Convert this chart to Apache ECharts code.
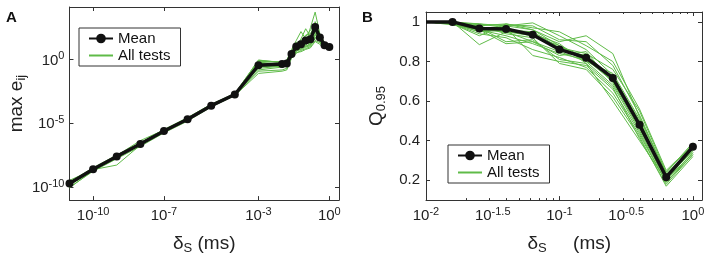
<!DOCTYPE html>
<html>
<head>
<meta charset="utf-8">
<script src="https://cdn.jsdelivr.net/npm/echarts@6/dist/echarts.min.js"></script>
<style>
  html, body { margin: 0; padding: 0; background: #fff; }
  #container { width: 709px; height: 260px; }
</style>
</head>
<body>
<div id="container"></div>
<script>
// ---- panel A data: max error vs time step
const xA = [1e-11, 1e-10, 1e-9, 1e-8, 1e-7, 1e-6, 1e-5, 1e-4, 1e-3,
            0.0100, 0.0158, 0.0251, 0.0398, 0.0631, 0.1000, 0.1585, 0.2512, 0.3981, 0.6310, 1.0000];
const meanA = [2.0e-10, 2.6e-9, 2.6e-8, 2.4e-7, 2.5e-6, 2.1e-5, 2.4e-4, 1.8e-3, 0.35,
               0.43, 0.47, 2.6, 10, 15, 30, 37, 340, 52, 13, 9.5];
const testsA = [
  [1.5e-10, 2.2e-9, 2.1e-8, 2.0e-7, 2.1e-6, 1.8e-5, 2.0e-4, 1.6e-3, 0.30, 0.38, 0.40, 1.8, 4.5, 6, 9, 12, 60, 25, 9, 8.5],
  [2.6e-10, 3.4e-9, 3.3e-8, 3.1e-7, 3.3e-6, 2.8e-5, 3.1e-4, 2.2e-3, 0.85, 0.60, 0.70, 3.5, 8, 20, 12, 50, 900, 80, 15, 10],
  [1.0e-10, 1.8e-9, 1.7e-8, 1.6e-7, 1.8e-6, 1.5e-5, 1.9e-4, 1.5e-3, 0.08, 0.12, 0.15, 1.2, 3, 5, 7, 10, 30, 20, 8, 9],
  [2.3e-10, 3.0e-9, 3.2e-8, 2.7e-7, 2.9e-6, 2.6e-5, 2.9e-4, 2.0e-3, 0.45, 0.50, 0.55, 5, 30, 150, 40, 25, 200, 60, 12, 11],
  [1.8e-10, 2.4e-9, 5.5e-9, 2.0e-7, 2.2e-6, 2.3e-5, 2.6e-4, 1.9e-3, 0.20, 0.30, 0.35, 2, 6, 8, 15, 300, 5000, 100, 20, 10],
  [2.1e-10, 2.8e-9, 2.8e-8, 2.6e-7, 2.7e-6, 2.3e-5, 2.7e-4, 1.7e-3, 0.12, 0.15, 0.20, 1.5, 4, 9, 20, 15, 100, 30, 10, 9],
  [1.7e-10, 2.5e-9, 2.4e-8, 2.3e-7, 2.4e-6, 2.0e-5, 2.3e-4, 1.8e-3, 0.70, 0.65, 0.80, 4, 12, 25, 60, 200, 400, 90, 14, 10],
  [1.9e-10, 2.7e-9, 2.7e-8, 2.5e-7, 2.6e-6, 2.2e-5, 2.5e-4, 1.9e-3, 0.90, 0.55, 0.60, 3, 10, 12, 25, 30, 150, 40, 11, 9],
  [3.5e-10, 2.3e-9, 2.2e-8, 2.2e-7, 2.3e-6, 1.9e-5, 2.2e-4, 1.7e-3, 0.25, 0.35, 0.40, 2.2, 7, 10, 18, 20, 80, 35, 10, 9.5],
  [1.6e-10, 2.0e-9, 2.5e-8, 2.9e-7, 2.8e-6, 2.5e-5, 2.8e-4, 2.1e-3, 0.50, 0.40, 0.50, 2.5, 9, 40, 250, 60, 120, 45, 16, 10],
  [2.4e-10, 3.1e-9, 2.9e-8, 2.7e-7, 2.6e-6, 2.4e-5, 2.6e-4, 1.8e-3, 0.60, 0.45, 0.50, 3, 15, 8, 10, 18, 40, 50, 13, 10],
  [0.9e-10, 2.1e-9, 2.0e-8, 2.1e-7, 2.0e-6, 1.7e-5, 2.1e-4, 1.6e-3, 0.15, 0.25, 0.30, 1.6, 3.5, 4, 6, 8, 25, 15, 7, 8.5],
  [2.0e-10, 2.9e-9, 3.0e-8, 4.5e-7, 3.0e-6, 2.7e-5, 3.0e-4, 2.0e-3, 0.40, 0.50, 0.90, 6, 20, 30, 80, 100, 600, 70, 18, 11],
  [1.8e-10, 2.6e-9, 2.3e-8, 2.4e-7, 2.5e-6, 2.1e-5, 2.4e-4, 1.8e-3, 0.30, 0.28, 0.45, 2, 5, 7, 11, 14, 50, 25, 9, 9]
];
const tickA_x = [1e-10, 1e-7, 1e-3, 1];
const tickA_y = [1e-10, 1e-5, 1];

// ---- panel B data: Q0.95 vs time step
const xB = [0.0100, 0.0158, 0.0251, 0.0398, 0.0631, 0.1000, 0.1585, 0.2512, 0.3981, 0.6310, 1.0000];
const meanB = [1.0, 1.0, 0.967, 0.964, 0.935, 0.861, 0.819, 0.717, 0.480, 0.216, 0.369];
const testsB = [
  [1, 1.0, 0.885, 0.95, 0.93, 0.88, 0.82, 0.70, 0.48, 0.21, 0.36],
  [1, 0.995, 0.98, 0.99, 0.96, 0.90, 0.93, 0.84, 0.52, 0.23, 0.37],
  [1, 0.99, 0.96, 0.89, 0.90, 0.85, 0.80, 0.68, 0.45, 0.20, 0.34],
  [1, 1.0, 0.99, 0.98, 0.995, 0.93, 0.86, 0.73, 0.50, 0.22, 0.38],
  [1, 0.995, 0.97, 0.97, 0.83, 0.80, 0.78, 0.66, 0.44, 0.19, 0.33],
  [1, 0.99, 0.95, 0.96, 0.95, 0.87, 0.84, 0.76, 0.55, 0.24, 0.39],
  [1, 1.0, 0.98, 0.94, 0.92, 0.79, 0.76, 0.62, 0.42, 0.17, 0.32],
  [1, 0.99, 0.93, 0.99, 0.97, 0.95, 0.88, 0.80, 0.56, 0.25, 0.38],
  [1, 0.985, 0.96, 0.93, 0.89, 0.84, 0.81, 0.70, 0.47, 0.21, 0.35],
  [1, 1.0, 0.97, 0.95, 0.94, 0.89, 0.79, 0.60, 0.40, 0.20, 0.36],
  [1, 0.995, 0.99, 0.97, 0.93, 0.86, 0.83, 0.72, 0.49, 0.22, 0.37],
  [1, 0.99, 0.94, 0.92, 0.86, 0.82, 0.77, 0.64, 0.43, 0.19, 0.34],
  [1, 1.0, 0.985, 0.985, 0.98, 0.91, 0.90, 0.78, 0.53, 0.23, 0.36],
  [1, 0.99, 0.96, 0.95, 0.90, 0.83, 0.85, 0.69, 0.46, 0.21, 0.35],
  [1, 0.995, 0.95, 0.98, 0.96, 0.88, 0.80, 0.74, 0.51, 0.24, 0.38],
  [1, 1.0, 0.97, 0.90, 0.91, 0.81, 0.79, 0.67, 0.41, 0.18, 0.33]
];
const labelB_x = [0.01, 0.031623, 0.1, 0.31623, 1];
const tickB_x = [0.01, 0.1, 1];
const minorB_x = [0.02, 0.03, 0.04, 0.05, 0.06, 0.07, 0.08, 0.09,
                  0.2, 0.3, 0.4, 0.5, 0.6, 0.7, 0.8, 0.9];
const tickB_y = [0.2, 0.4, 0.6, 0.8, 1];

const FONT = 'Liberation Sans, Arial, Helvetica, sans-serif';
const FRAME = '#333';
const GREEN = '#5fbb48';
const BLACK = '#111';

function zip(xs, ys) {
    return xs.map((x, i) => [x, ys[i]]);
}

// 10^k labels with superscript
function powLabel(v) {
    let e = Math.round(Math.log10(v) * 10) / 10;
    return '{b|10}{s|' + e + '}';
}
const powRich = {
    b: { fontSize: 15, lineHeight: 17, padding: [6, 0, 0, 0], verticalAlign: 'bottom', color: '#222' },
    s: { fontSize: 11, lineHeight: 12, verticalAlign: 'top', color: '#222' }
};
const nameRich = {
    g: { fontSize: 19, lineHeight: 21, verticalAlign: 'top', color: '#222' },
    sub: { fontSize: 13, lineHeight: 13, padding: [14, 0, 0, 0], verticalAlign: 'bottom', color: '#222' }
};

function frameAxis(extra) {
    return Object.assign({
        axisLine: { show: true, onZero: false, lineStyle: { color: FRAME, width: 1 } },
        splitLine: { show: false },
        axisLabel: { show: false },
        axisTick: { show: true, inside: true, length: 4, lineStyle: { color: FRAME } }
    }, extra);
}

const xAxes = [
    // A bottom
    frameAxis({
        type: 'log', gridIndex: 0, position: 'bottom', min: 1e-11, max: 2.57,
        axisTick: { show: true, inside: true, length: 4, customValues: tickA_x, lineStyle: { color: FRAME } },
        axisLabel: { show: true, customValues: tickA_x, formatter: powLabel, rich: powRich, margin: 6 },
        name: '{g|δ}{sub|S}{g| (ms)}', nameLocation: 'middle', nameGap: 19,
        nameTextStyle: { rich: nameRich }
    }),
    // A top
    frameAxis({
        type: 'log', gridIndex: 0, position: 'top', min: 1e-11, max: 2.57,
        axisTick: { show: true, inside: true, length: 4, customValues: tickA_x, lineStyle: { color: FRAME } }
    }),
    // B bottom major
    frameAxis({
        type: 'log', gridIndex: 1, position: 'bottom', min: 0.01, max: 1.17,
        axisTick: { show: true, inside: true, length: 4, customValues: tickB_x, lineStyle: { color: FRAME } },
        axisLabel: { show: true, customValues: labelB_x, formatter: powLabel, rich: powRich, margin: 6 },
        name: '{g|  δ}{sub|S}{g|     (ms)}', nameLocation: 'middle', nameGap: 19,
        nameTextStyle: { rich: nameRich }
    }),
    // B bottom minor
    frameAxis({
        type: 'log', gridIndex: 1, position: 'bottom', min: 0.01, max: 1.17,
        axisLine: { show: false },
        axisTick: { show: true, inside: true, length: 2, customValues: minorB_x, lineStyle: { color: FRAME } }
    }),
    // B top major
    frameAxis({
        type: 'log', gridIndex: 1, position: 'top', min: 0.01, max: 1.17,
        axisTick: { show: true, inside: true, length: 4, customValues: tickB_x, lineStyle: { color: FRAME } }
    }),
    // B top minor
    frameAxis({
        type: 'log', gridIndex: 1, position: 'top', min: 0.01, max: 1.17,
        axisLine: { show: false },
        axisTick: { show: true, inside: true, length: 2, customValues: minorB_x, lineStyle: { color: FRAME } }
    })
];

const yAxes = [
    frameAxis({
        type: 'log', gridIndex: 0, position: 'left', min: 1e-11, max: 1.25e4,
        axisTick: { show: true, inside: true, length: 4, customValues: tickA_y, lineStyle: { color: FRAME } },
        axisLabel: { show: true, customValues: tickA_y, formatter: powLabel, rich: powRich, margin: 5 },
        name: '{g|max e}{sub|ij}', nameLocation: 'middle', nameGap: 40, nameRotate: 90,
        nameTextStyle: { rich: nameRich }
    }),
    frameAxis({
        type: 'log', gridIndex: 0, position: 'right', min: 1e-11, max: 1.25e4,
        axisTick: { show: true, inside: true, length: 4, customValues: tickA_y, lineStyle: { color: FRAME } }
    }),
    frameAxis({
        type: 'value', gridIndex: 1, position: 'left', min: 0.1, max: 1.05,
        axisTick: { show: true, inside: true, length: 4, customValues: tickB_y, lineStyle: { color: FRAME } },
        axisLabel: {
            show: true, customValues: tickB_y, margin: 6, fontSize: 15, color: '#222',
            formatter: v => (v === 1 ? '1' : v.toFixed(1))
        },
        name: '{g|Q}{sub|0.95}', nameLocation: 'middle', nameGap: 38, nameRotate: 90,
        nameTextStyle: { rich: nameRich }
    }),
    frameAxis({
        type: 'value', gridIndex: 1, position: 'right', min: 0.1, max: 1.05,
        axisTick: { show: true, inside: true, length: 4, customValues: tickB_y, lineStyle: { color: FRAME } }
    })
];

function testSeries(rows, xs, xi, yi) {
    return rows.map(r => ({
        type: 'line', name: 'All tests', xAxisIndex: xi, yAxisIndex: yi,
        data: zip(xs, r), symbol: 'none', silent: true, z: 2,
        lineStyle: { color: GREEN, width: 1 }, itemStyle: { color: GREEN }
    }));
}

function meanSeries(xs, ys, xi, yi, hideFirst) {
    let d = zip(xs, ys).map((p, i) => (hideFirst && i === 0) ? { value: p, symbol: 'none' } : p);
    return {
        type: 'line', name: 'Mean', xAxisIndex: xi, yAxisIndex: yi,
        data: d, symbol: 'circle', symbolSize: 8, z: 5,
        lineStyle: { color: BLACK, width: 3.5 }, itemStyle: { color: BLACK }
    };
}

const legendBase = {
    orient: 'vertical', backgroundColor: '#fff',
    borderColor: FRAME, borderWidth: 1, padding: [3, 10, 3, 9],
    itemWidth: 24, itemHeight: 12, itemGap: 2, itemTextGap: 8,
    textStyle: { fontSize: 15, color: '#111', fontFamily: FONT },
    data: [
        { name: 'Mean' },
        { name: 'All tests', itemStyle: { color: 'rgba(0,0,0,0)', borderWidth: 0, opacity: 0 } }
    ],
    selectedMode: false
};

let option = {
    animation: false,
    textStyle: { fontFamily: FONT },
    grid: [
        { left: 68, top: 7, width: 271, height: 204 },
        { left: 426, top: 12, width: 276, height: 200 }
    ],
    legend: [
        Object.assign({ left: 79, top: 28 }, legendBase),
        Object.assign({ left: 448, top: 145 }, legendBase)
    ],
    xAxis: xAxes,
    yAxis: yAxes,
    graphic: [
        { type: 'text', left: 6, top: 10, style: { text: 'A', font: 'bold 15px ' + FONT, fill: '#111' } },
        { type: 'text', left: 362, top: 10, style: { text: 'B', font: 'bold 15px ' + FONT, fill: '#111' } }
    ],
    series: [].concat(
        testSeries(testsA, xA, 0, 0),
        [meanSeries(xA, meanA, 0, 0, false)],
        testSeries(testsB, xB, 2, 2),
        [meanSeries(xB, meanB, 2, 2, true)]
    )
};

let chartDom = document.getElementById('container');
let chrt = echarts.init(chartDom, null, { renderer: 'canvas' });
chrt.setOption(option);
</script>
</body>
</html>
